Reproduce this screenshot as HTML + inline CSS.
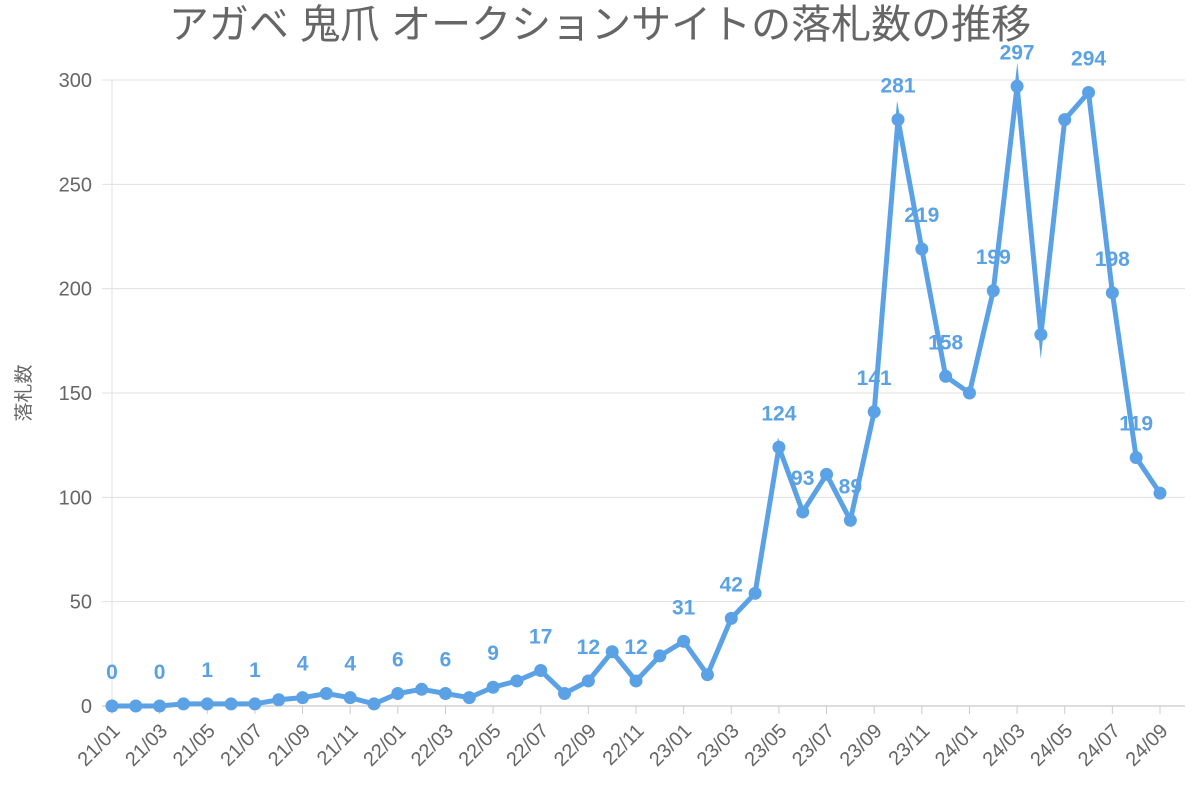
<!DOCTYPE html>
<html><head><meta charset="utf-8">
<style>
html,body{margin:0;padding:0;background:#fff;}
svg text{font-family:"Liberation Sans","Noto Sans CJK JP",sans-serif;}
</style></head>
<body>
<svg id="chart" width="1200" height="800" xmlns="http://www.w3.org/2000/svg">
<text x="600" y="38" text-anchor="middle" font-size="40" fill="#666">アガベ 鬼爪 オークションサイトの落札数の推移</text>
<text transform="translate(30,393) rotate(-90)" text-anchor="middle" font-size="19" fill="#666">落札数</text>
<g id="grid"></g>
<g id="xaxis"></g>
<g id="yaxis"></g>
<g id="series"></g>
<g id="labels"></g>
</svg>
<script>
const categories = ["21/01","21/02","21/03","21/04","21/05","21/06","21/07","21/08","21/09","21/10","21/11","21/12",
"22/01","22/02","22/03","22/04","22/05","22/06","22/07","22/08","22/09","22/10","22/11","22/12",
"23/01","23/02","23/03","23/04","23/05","23/06","23/07","23/08","23/09","23/10","23/11","23/12",
"24/01","24/02","24/03","24/04","24/05","24/06","24/07","24/08","24/09"];
const values = [0,0,0,1,1,1,1,3,4,6,4,1,6,8,6,4,9,12,17,6,12,26,12,24,31,15,42,54,124,93,111,89,141,281,219,158,150,199,297,178,281,294,198,119,102];
const labelIndices = [0,2,4,6,8,10,12,14,16,18,20,22,24,26,28,29,31,32,33,34,35,37,38,41,42,43];
const yTicks = [0,50,100,150,200,250,300];

const NS="http://www.w3.org/2000/svg";
const x0=112,x1=1160,y0=706,y300=80;
const xs=i=>x0+(x1-x0)*i/(categories.length-1);
const ys=v=>y0+(y300-y0)*v/300;
function mk(tag,attrs,parent,txt){const e=document.createElementNS(NS,tag);for(const k in attrs)e.setAttribute(k,attrs[k]);if(txt!==undefined)e.textContent=txt;parent.appendChild(e);return e;}
const grid=document.getElementById('grid'),xa=document.getElementById('xaxis'),ya=document.getElementById('yaxis'),ser=document.getElementById('series'),lab=document.getElementById('labels');
yTicks.forEach(t=>{
  const l=mk('line',{x1:x0-10,x2:1185,y1:ys(t),y2:ys(t),stroke:t===0?'#bbb':'#e0e0e0','stroke-width':1},grid);
  
  
  const tx=mk('text',{x:92,y:ys(t)+7,'text-anchor':'end','font-size':20,fill:'#666'},ya,String(t));
  
  
});
mk('line',{x1:x0,x2:x0,y1:y300,y2:y0+8,stroke:'#e0e0e0'},grid);
categories.forEach((c,i)=>{
  if(i%2!==0)return;
  const x=xs(i);
  const tk=mk('line',{x1:x,x2:x,y1:y0,y2:y0+8,stroke:'#ccc'},xa);
  
  
  const ax=x+9, ay=y0+26;
  const t=mk('text',{x:ax,y:ay,'text-anchor':'end','font-size':20,fill:'#666',transform:`rotate(-45 ${ax} ${ay})`},xa,c);
  
  
});
const pts=values.map((v,i)=>xs(i)+','+ys(v)).join(' ');
const pl=mk('polyline',{points:pts,fill:'none',stroke:'#5aa2e5','stroke-width':5,'stroke-linejoin':'miter','stroke-miterlimit':10},ser);


values.forEach((v,i)=>{
  const c=mk('circle',{cx:xs(i),cy:ys(v),r:6.5,fill:'#5aa2e5'},ser);
  
  
});
labelIndices.forEach(i=>{
  const t=mk('text',{x:xs(i),y:ys(values[i])-27,'text-anchor':'middle','font-size':21,'font-weight':'bold',fill:'#5aa2e5'},lab,String(values[i]));
  
  
});
</script>
</body></html>
